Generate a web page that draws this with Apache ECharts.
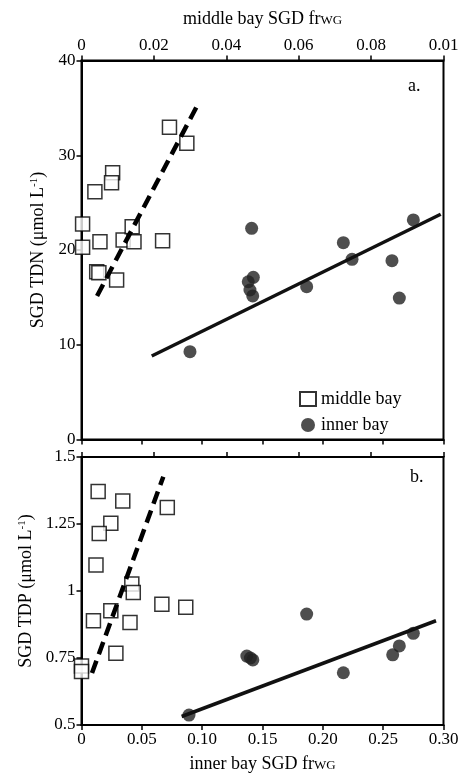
<!DOCTYPE html>
<html>
<head>
	<meta charset="utf-8">
	<title>SGD TDN / TDP vs frWG</title>
	<style type="text/css">
		html, body { margin: 0; padding: 0; background: #fff; }
		#main { width: 463px; height: 777px; }
	</style>
</head>
<body>
<div id="main"></div>
<script type="text/javascript" src="https://cdn.jsdelivr.net/npm/echarts@6.0.0/dist/echarts.min.js"></script>
<script type="text/javascript">
	// middle bay: x on top axis (0 - 0.10), inner bay: x on bottom axis (0 - 0.30)
	var middleTDN = [
		[0.0243, 32.95], [0.0291, 31.26], [0.0086, 28.16], [0.0083, 27.10], [0.0037, 26.15],
		[0.0003, 22.74], [0.0003, 20.28], [0.0051, 20.88], [0.0115, 21.06], [0.0140, 22.46],
		[0.0145, 20.88], [0.0224, 20.98], [0.0042, 17.71], [0.0048, 17.60], [0.0097, 16.83]
	];
	var innerTDN = [
		[0.141, 22.29], [0.1424, 17.12], [0.1382, 16.65], [0.1396, 15.78], [0.1419, 15.15],
		[0.1866, 16.13], [0.217, 20.77], [0.2242, 19.02], [0.2573, 18.87], [0.2634, 14.93],
		[0.275, 23.17], [0.0899, 9.27]
	];
	var middleTDNFit = [[0.0043, 15.15], [0.0318, 35.12]];
	var innerTDNFit = [[0.0582, 8.81], [0.2977, 23.77]];

	var middleTDP = [
		[0.0046, 1.371], [0.0114, 1.336], [0.0237, 1.312], [0.0081, 1.253], [0.0049, 1.215],
		[0.0040, 1.097], [0.0139, 1.026], [0.0143, 0.994], [0.0222, 0.951], [0.0288, 0.939],
		[0.0081, 0.926], [0.0033, 0.889], [0.0134, 0.882], [0.0095, 0.768], [0.0000, 0.720],
		[0.0000, 0.700]
	];
	var innerTDP = [
		[0.1866, 0.914], [0.137, 0.757], [0.140, 0.750], [0.142, 0.743], [0.217, 0.695],
		[0.2579, 0.762], [0.2634, 0.795], [0.275, 0.842], [0.0891, 0.537]
	];
	var middleTDPFit = [[0.0029, 0.694], [0.0226, 1.4265]];
	var innerTDPFit = [[0.083, 0.5317], [0.2938, 0.889]];

	var FONT = 'Liberation Serif';
	var black = '#000';

	function midLabel(v) {
		if (v === 0) return '0';
		if (v > 0.099) return '0.01';   // as printed on the original figure
		return v.toFixed(2);
	}
	function innerLabel(v) {
		return v === 0 ? '0' : v.toFixed(2);
	}

	var richName = {
		sc: { fontFamily: FONT, fontSize: 13, color: black, padding: [3, 0, 0, 0] }
	};
	var richY = {
		sup: { fontFamily: FONT, fontSize: 11, color: black, padding: [0, 0, 8, 0] }
	};

	function xAxisBase(grid, pos, max, interval, showLabel, fmt) {
		return {
			type: 'value', gridIndex: grid, position: pos,
			min: 0, max: max, interval: interval,
			splitLine: { show: false },
			axisLine: { show: true, onZero: false, lineStyle: { color: black, width: 2 } },
			axisTick: { show: true, inside: false, length: 5, lineStyle: { color: black, width: 1.5 } },
			axisLabel: { show: showLabel, formatter: fmt, color: black, fontFamily: FONT, fontSize: 17, margin: 6 }
		};
	}

	var myChart = echarts.init(document.getElementById('main'), null, { renderer: 'canvas' });

	var xTopA = xAxisBase(0, 'top', 0.1, 0.02, true, midLabel);
	xTopA.name = 'middle bay SGD fr{sc|WG}';
	xTopA.nameLocation = 'middle';
	xTopA.nameGap = 32;
	xTopA.nameTextStyle = { fontFamily: FONT, fontSize: 18, color: black, rich: richName };

	var xBotB = xAxisBase(1, 'bottom', 0.3, 0.05, true, innerLabel);
	xBotB.name = 'inner bay SGD fr{sc|WG}';
	xBotB.nameLocation = 'middle';
	xBotB.nameGap = 30;
	xBotB.nameTextStyle = { fontFamily: FONT, fontSize: 18, color: black, rich: richName };

	var option = {
		backgroundColor: '#fff',
		animation: false,
		textStyle: { fontFamily: FONT },
		grid: [
			{ left: 81.5, top: 60.5, width: 362, height: 379, show: true, borderColor: black, borderWidth: 2, backgroundColor: 'transparent' },
			{ left: 81.5, top: 457, width: 362, height: 268, show: true, borderColor: black, borderWidth: 2, backgroundColor: 'transparent' }
		],
		xAxis: [
			xTopA,
			xAxisBase(0, 'bottom', 0.3, 0.05, false, innerLabel),
			xAxisBase(1, 'top', 0.1, 0.02, false, midLabel),
			xBotB
		],
		yAxis: [
			{
				type: 'value', gridIndex: 0, min: 0, max: 40, interval: 10,
				splitLine: { show: false },
				axisLine: { show: true, lineStyle: { color: black, width: 2 } },
				axisTick: { show: true, length: 5, lineStyle: { color: black, width: 1.5 } },
				axisLabel: { color: black, fontFamily: FONT, fontSize: 17, margin: 6 },
				name: 'SGD TDN (μmol L{sup|-1})', nameLocation: 'middle', nameGap: 32,
				nameTextStyle: { fontFamily: FONT, fontSize: 18, color: black, rich: richY }
			},
			{
				type: 'value', gridIndex: 1, min: 0.5, max: 1.5, interval: 0.25,
				splitLine: { show: false },
				axisLine: { show: true, lineStyle: { color: black, width: 2 } },
				axisTick: { show: true, length: 5, lineStyle: { color: black, width: 1.5 } },
				axisLabel: { color: black, fontFamily: FONT, fontSize: 17, margin: 6 },
				name: 'SGD TDP (μmol L{sup|-1})', nameLocation: 'middle', nameGap: 46,
				nameTextStyle: { fontFamily: FONT, fontSize: 18, color: black, rich: richY }
			}
		],
		legend: {
			orient: 'vertical', left: 294, top: 385, itemGap: 8,
			itemWidth: 16, itemHeight: 14,
			textStyle: { fontFamily: FONT, fontSize: 18, color: black },
			data: ['middle bay', 'inner bay']
		},
		graphic: [
			{ type: 'text', left: 408, top: 77, style: { text: 'a.', font: '18px "Liberation Serif"', fill: black } },
			{ type: 'text', left: 410, top: 468, style: { text: 'b.', font: '18px "Liberation Serif"', fill: black } }
		],
		series: [
			{
				name: 'middle bay', type: 'scatter', xAxisIndex: 0, yAxisIndex: 0, data: middleTDN,
				symbol: 'rect', symbolSize: 14,
				itemStyle: { color: '#fff', borderColor: black, borderWidth: 1.5 }
			},
			{
				name: 'inner bay', type: 'scatter', xAxisIndex: 1, yAxisIndex: 0, data: innerTDN,
				symbol: 'circle', symbolSize: 13, itemStyle: { color: '#222' }
			},
			{
				type: 'line', xAxisIndex: 0, yAxisIndex: 0, data: middleTDNFit, symbol: 'none', z: 3,
				lineStyle: { color: black, width: 4.5, type: [13, 7] }
			},
			{
				type: 'line', xAxisIndex: 1, yAxisIndex: 0, data: innerTDNFit, symbol: 'none', z: 3,
				lineStyle: { color: '#111', width: 3.5 }
			},
			{
				name: 'middle bay', type: 'scatter', xAxisIndex: 2, yAxisIndex: 1, data: middleTDP,
				symbol: 'rect', symbolSize: 14,
				itemStyle: { color: '#fff', borderColor: black, borderWidth: 1.5 }
			},
			{
				name: 'inner bay', type: 'scatter', xAxisIndex: 3, yAxisIndex: 1, data: innerTDP,
				symbol: 'circle', symbolSize: 13, itemStyle: { color: '#222' }
			},
			{
				type: 'line', xAxisIndex: 2, yAxisIndex: 1, data: middleTDPFit, symbol: 'none', z: 3,
				lineStyle: { color: black, width: 4.5, type: [13, 7] }
			},
			{
				type: 'line', xAxisIndex: 3, yAxisIndex: 1, data: innerTDPFit, symbol: 'none', z: 3,
				lineStyle: { color: '#111', width: 3.5 }
			}
		]
	};

	myChart.setOption(option);
</script>
</body>
</html>
